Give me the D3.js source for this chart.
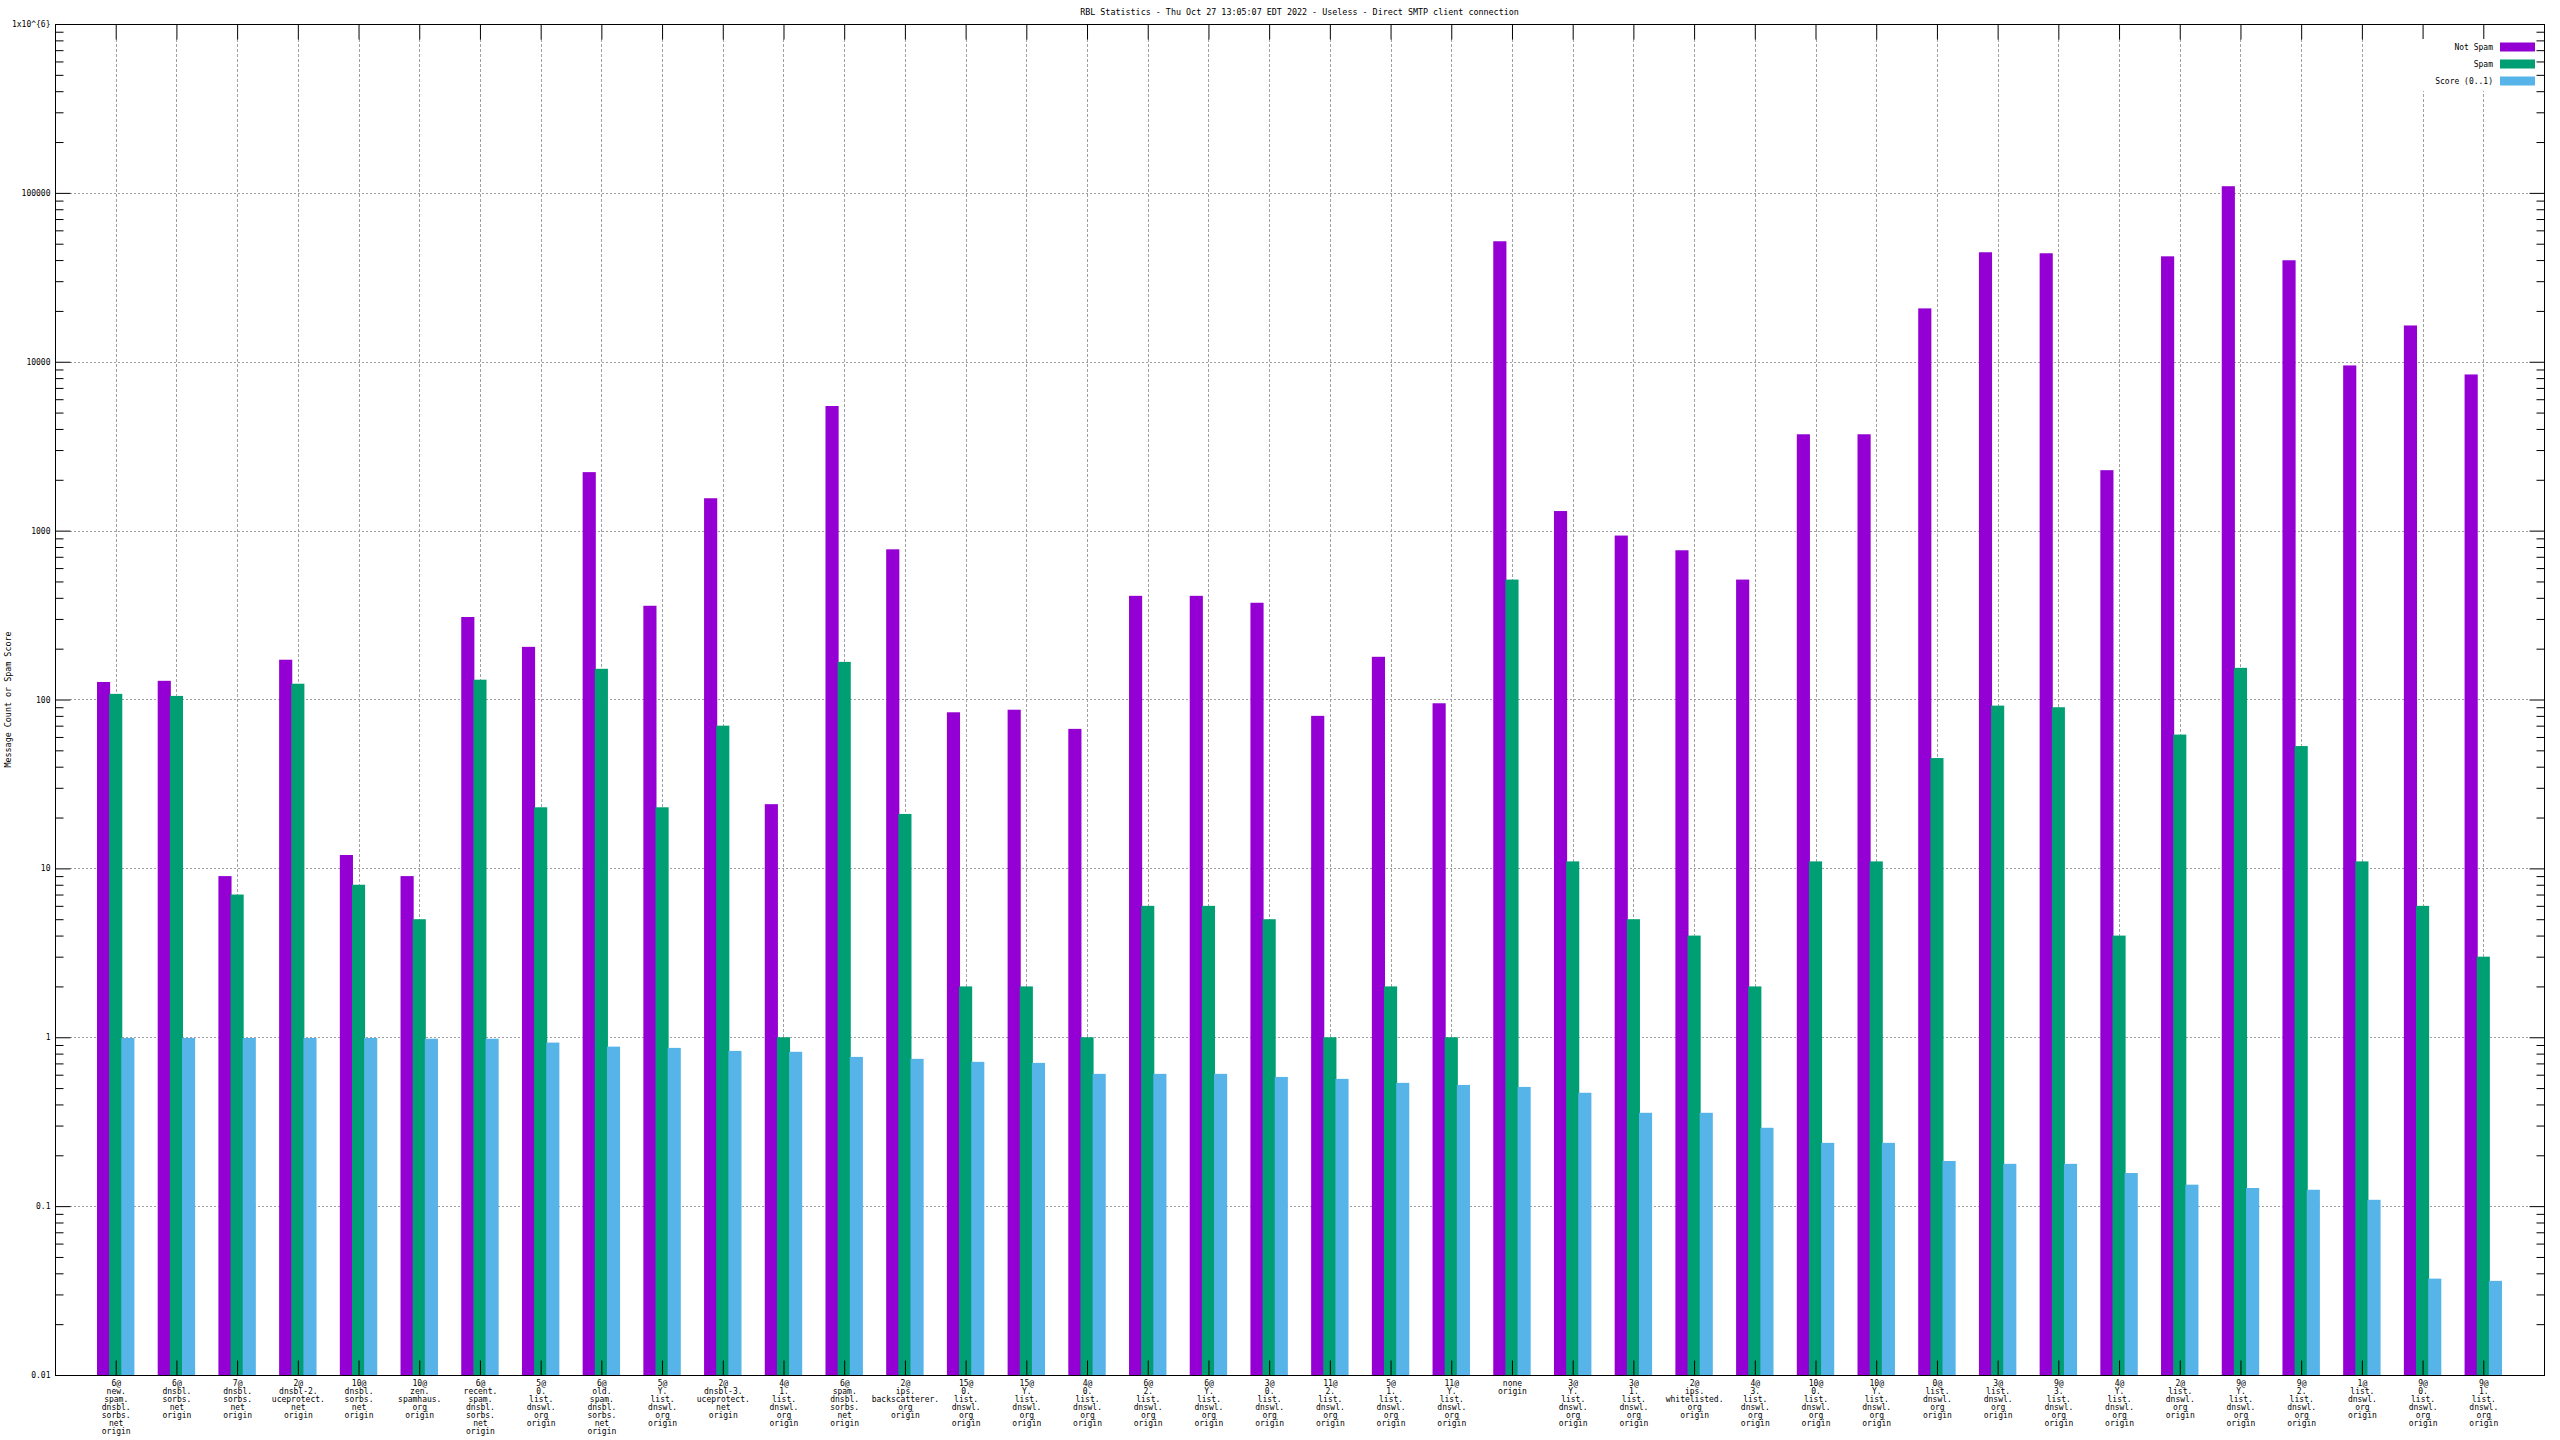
<!DOCTYPE html>
<html>
<head>
<meta charset="utf-8">
<script src="https://cdn.jsdelivr.net/npm/d3@7"></script>
<style>
  html, body { margin: 0; padding: 0; background: #ffffff; }
  svg { display: block; }
  text { font-family: "DejaVu Sans Mono", "Liberation Mono", monospace; fill: #000; }
</style>
</head>
<body>
<svg id="chart" width="2560" height="1440"></svg>
<script>
// ---------------- DATA ----------------
const titleText = "RBL Statistics - Thu Oct 27 13:05:07 EDT 2022 - Useless - Direct SMTP client connection";
const yAxisTitle = "Message Count or Spam Score";
const seriesNames = ["Not Spam", "Spam", "Score (0..1)"];
const seriesColors = ["#9400d3", "#009e73", "#56b4e9"];

const categories = [
  ["6@", "new.", "spam.", "dnsbl.", "sorbs.", "net", "origin"],
  ["6@", "dnsbl.", "sorbs.", "net", "origin"],
  ["7@", "dnsbl.", "sorbs.", "net", "origin"],
  ["2@", "dnsbl-2.", "uceprotect.", "net", "origin"],
  ["10@", "dnsbl.", "sorbs.", "net", "origin"],
  ["10@", "zen.", "spamhaus.", "org", "origin"],
  ["6@", "recent.", "spam.", "dnsbl.", "sorbs.", "net", "origin"],
  ["5@", "0.", "list.", "dnswl.", "org", "origin"],
  ["6@", "old.", "spam.", "dnsbl.", "sorbs.", "net", "origin"],
  ["5@", "Y.", "list.", "dnswl.", "org", "origin"],
  ["2@", "dnsbl-3.", "uceprotect.", "net", "origin"],
  ["4@", "1.", "list.", "dnswl.", "org", "origin"],
  ["6@", "spam.", "dnsbl.", "sorbs.", "net", "origin"],
  ["2@", "ips.", "backscatterer.", "org", "origin"],
  ["15@", "0.", "list.", "dnswl.", "org", "origin"],
  ["15@", "Y.", "list.", "dnswl.", "org", "origin"],
  ["4@", "0.", "list.", "dnswl.", "org", "origin"],
  ["6@", "2.", "list.", "dnswl.", "org", "origin"],
  ["6@", "Y.", "list.", "dnswl.", "org", "origin"],
  ["3@", "0.", "list.", "dnswl.", "org", "origin"],
  ["11@", "2.", "list.", "dnswl.", "org", "origin"],
  ["5@", "1.", "list.", "dnswl.", "org", "origin"],
  ["11@", "Y.", "list.", "dnswl.", "org", "origin"],
  ["none", "origin"],
  ["3@", "Y.", "list.", "dnswl.", "org", "origin"],
  ["3@", "1.", "list.", "dnswl.", "org", "origin"],
  ["2@", "ips.", "whitelisted.", "org", "origin"],
  ["4@", "3.", "list.", "dnswl.", "org", "origin"],
  ["10@", "0.", "list.", "dnswl.", "org", "origin"],
  ["10@", "Y.", "list.", "dnswl.", "org", "origin"],
  ["0@", "list.", "dnswl.", "org", "origin"],
  ["3@", "list.", "dnswl.", "org", "origin"],
  ["9@", "3.", "list.", "dnswl.", "org", "origin"],
  ["4@", "Y.", "list.", "dnswl.", "org", "origin"],
  ["2@", "list.", "dnswl.", "org", "origin"],
  ["9@", "Y.", "list.", "dnswl.", "org", "origin"],
  ["9@", "2.", "list.", "dnswl.", "org", "origin"],
  ["1@", "list.", "dnswl.", "org", "origin"],
  ["9@", "0.", "list.", "dnswl.", "org", "origin"],
  ["9@", "1.", "list.", "dnswl.", "org", "origin"]
];

const notSpam = [127, 129, 9, 172, 12, 9, 308, 205, 2220, 359,
                 1555, 24, 5470, 775, 84, 87, 67, 411, 411, 374,
                 80, 179, 95, 51700, 1306, 935, 765, 513, 3720, 3720,
                 20700, 44500, 43900, 2280, 42100, 109500, 39900, 9510, 16400, 8410];

const spam = [108, 105, 7, 124, 8, 5, 131, 23, 152, 23,
              70, 1, 167, 21, 2, 2, 1, 6, 6, 5,
              1, 2, 1, 513, 11, 5, 4, 2, 11, 11,
              45, 92, 90, 4, 62, 154, 53, 11, 6, 3];

const score = [0.99, 0.99, 0.99, 0.99, 0.99, 0.98, 0.98, 0.93, 0.88, 0.865,
               0.83, 0.82, 0.765, 0.745, 0.715, 0.705, 0.607, 0.607, 0.607, 0.582,
               0.567, 0.537, 0.522, 0.508, 0.469, 0.357, 0.357, 0.291, 0.237, 0.237,
               0.185, 0.178, 0.178, 0.157, 0.134, 0.128, 0.125, 0.109, 0.0372, 0.0361];

const yTickValues = [0.01, 0.1, 1, 10, 100, 1000, 10000, 100000, 1000000];
const yTickLabels = ["0.01", "0.1", "1", "10", "100", "1000", "10000", "100000", "1x10^{6}"];

// ---------------- LAYOUT ----------------
const W = 2560, H = 1440;
const plot = { left: 55, right: 2544, top: 24, bottom: 1375 };
const majorTick = 15, minorTick = 8;
const fontSize = 8;

const svg = d3.select("#chart");
svg.append("rect").attr("width", W).attr("height", H).attr("fill", "#fff");

const x = d3.scaleLinear().domain([-1, categories.length]).range([plot.left, plot.right]);
const y = d3.scaleLog().domain([0.01, 1e6]).range([plot.bottom, plot.top]);

const series = [notSpam, spam, score];
const barW = 0.2;

// minor ticks
const minorVals = [];
for (let e = -2; e < 6; e++) {
  for (let m = 2; m <= 9; m++) minorVals.push(m * Math.pow(10, e));
}

// ---------------- GRID ----------------
const grid = svg.append("g").attr("stroke", "#a0a0a0").attr("stroke-width", 1).attr("fill", "none");
grid.selectAll("line.h").data(yTickValues.slice(1, -1)).join("line")
  .attr("class", "h")
  .attr("stroke-dasharray", "2,2")
  .attr("x1", plot.left + majorTick).attr("x2", plot.right - majorTick)
  .attr("y1", d => Math.round(y(d)) + 0.5).attr("y2", d => Math.round(y(d)) + 0.5);
grid.selectAll("line.v").data(d3.range(categories.length)).join("line")
  .attr("class", "v")
  .attr("stroke-dasharray", "3,2")
  .attr("x1", d => Math.round(x(d)) + 0.5).attr("x2", d => Math.round(x(d)) + 0.5)
  .attr("y1", plot.top + majorTick).attr("y2", plot.bottom - majorTick);

// ---------------- BARS ----------------
const bars = svg.append("g");
series.forEach((vals, j) => {
  bars.append("g").attr("fill", seriesColors[j])
    .selectAll("rect").data(vals).join("rect")
    .attr("x", (d, i) => x(i + (j - 1) * barW - barW / 2) - 0.5)
    .attr("width", x(barW) - x(0) + 1)
    .attr("y", d => y(d))
    .attr("height", d => plot.bottom - y(d));
});

// ---------------- AXES ----------------
function styleAxis(g) {
  g.select(".domain").remove();
  g.selectAll(".tick line").attr("stroke", "#000").attr("stroke-width", 1);
  g.selectAll(".tick text").attr("font-size", fontSize).attr("fill", "#000")
    .style("font-family", "'DejaVu Sans Mono', monospace");
}

// left major
svg.append("g").attr("transform", `translate(${plot.left + 0.5},0)`)
  .call(d3.axisLeft(y).tickValues(yTickValues).tickSize(-majorTick).tickPadding(5)
    .tickFormat((d, i) => yTickLabels[i]))
  .call(styleAxis);
// left minor
svg.append("g").attr("transform", `translate(${plot.left + 0.5},0)`)
  .call(d3.axisLeft(y).tickValues(minorVals).tickSize(-minorTick).tickFormat(""))
  .call(styleAxis);
// right major
svg.append("g").attr("transform", `translate(${plot.right + 0.5},0)`)
  .call(d3.axisRight(y).tickValues(yTickValues).tickSize(-majorTick).tickFormat(""))
  .call(styleAxis);
// right minor
svg.append("g").attr("transform", `translate(${plot.right + 0.5},0)`)
  .call(d3.axisRight(y).tickValues(minorVals).tickSize(-minorTick).tickFormat(""))
  .call(styleAxis);
// top ticks
svg.append("g").attr("transform", `translate(0,${plot.top + 0.5})`)
  .call(d3.axisTop(x).tickValues(d3.range(categories.length)).tickSize(-majorTick).tickFormat(""))
  .call(styleAxis);
// bottom ticks + labels
const xAxisG = svg.append("g").attr("transform", `translate(0,${plot.bottom + 0.5})`)
  .call(d3.axisBottom(x).tickValues(d3.range(categories.length)).tickSize(-majorTick).tickFormat(""))
  .call(styleAxis);
xAxisG.selectAll(".tick").each(function (d) {
  const t = d3.select(this).select("text");
  t.attr("y", 0).attr("dy", null).attr("text-anchor", "middle");
  categories[d].forEach((line, k) => {
    t.append("tspan").attr("x", 0).attr("y", 8 + k * 8).attr("dy", "0.32em").text(line);
  });
});

// frame
svg.append("rect")
  .attr("x", plot.left + 0.5).attr("y", plot.top + 0.5)
  .attr("width", plot.right - plot.left).attr("height", plot.bottom - plot.top)
  .attr("fill", "none").attr("stroke", "#000").attr("stroke-width", 1);

// ---------------- TITLES ----------------
svg.append("text")
  .attr("x", (plot.left + plot.right) / 2).attr("y", 12).attr("dy", "0.32em")
  .attr("text-anchor", "middle").attr("font-size", 8.4)
  .text(titleText);

svg.append("text")
  .attr("transform", `translate(8,${(plot.top + plot.bottom) / 2}) rotate(-90)`)
  .attr("text-anchor", "middle").attr("dy", "0.32em").attr("font-size", 8.4)
  .text(yAxisTitle);

// ---------------- LEGEND ----------------
const legend = svg.append("g");
legend.append("rect").attr("x", 2415).attr("y", 39).attr("width", 121).attr("height", 52)
  .attr("fill", "#fff");
seriesNames.forEach((name, j) => {
  const cy = 47 + j * 17;
  legend.append("text").attr("x", 2493).attr("y", cy).attr("dy", "0.32em")
    .attr("text-anchor", "end").attr("font-size", fontSize).text(name);
  legend.append("rect").attr("x", 2500).attr("y", cy - 4.5).attr("width", 35).attr("height", 9)
    .attr("fill", seriesColors[j]);
});
</script>
</body>
</html>
